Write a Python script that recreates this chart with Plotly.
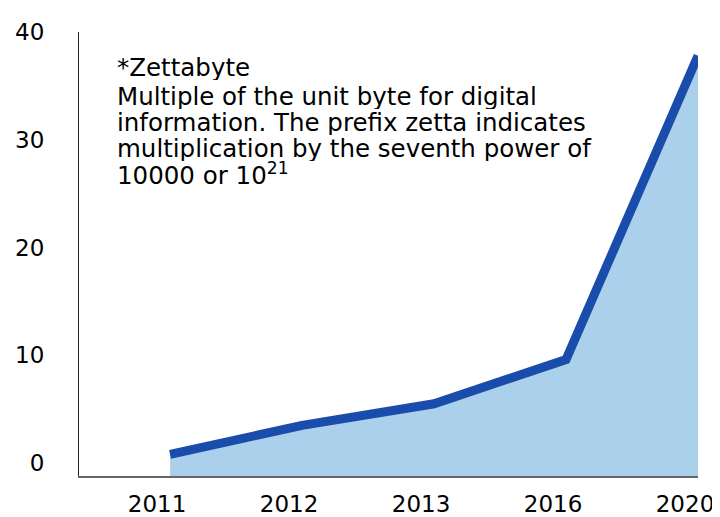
import plotly.graph_objects as go

# zettabytes of digital data per year
years = ['2011', '2012', '2013', '2016', '2020']
zettabytes = [0.8, 3.5, 5.5, 9.6, 37.8]
floor = [-1.45] * len(years)   # fill reaches just under the x axis line

note_lines = ['*Zettabyte',
              'Multiple of the unit byte for digital',
              'information. The prefix zetta indicates',
              'multiplication by the seventh power of',
              '10000 or 10<sup>21</sup>']

fig = go.Figure()

# invisible baseline for the area
fig.add_trace(go.Scatter(x=years, y=floor, mode='lines',
                         line=dict(width=0), hoverinfo='skip', showlegend=False))
# light blue area
fig.add_trace(go.Scatter(x=years, y=zettabytes, mode='lines', fill='tonexty',
                         fillcolor='rgba(134,188,228,0.7)',
                         line=dict(color='rgba(134,188,228,0.7)', width=3),
                         showlegend=False))
# dark blue line on top
fig.add_trace(go.Scatter(x=years, y=zettabytes, mode='lines',
                         line=dict(color='#1a4dab', width=9),
                         showlegend=False))

# note, one annotation per line to keep the tight line spacing
for i, txt in enumerate(note_lines):
    shift = 26 * i + (3 if i else 0)
    fig.add_annotation(text=txt, xref='paper', yref='paper', x=0.058, y=0.955,
                       yshift=-shift, xanchor='left', yanchor='top',
                       height=26, align='left', showarrow=False,
                       font=dict(family='DejaVu Sans', size=24.5, color='black'))

# page has an 8px body margin, so the figure is sized to fit the window
fig.update_layout(
    width=712, height=509,
    margin=dict(l=71, r=22, t=24, b=41),
    plot_bgcolor='white', paper_bgcolor='white',
    font=dict(family='DejaVu Sans', size=23, color='black'),
)
fig.update_xaxes(type='category', range=[-0.69, 4.0], showgrid=False,
                 showline=True, linecolor='#666666', linewidth=1.5,
                 ticks='outside', ticklen=7, tickcolor='rgba(0,0,0,0)',
                 ticklabelshift=-13, layer='below traces', zeroline=False,
                 automargin=False)
fig.update_yaxes(range=[-1.2, 40], tickvals=[0, 10, 20, 30, 40], showgrid=False,
                 showline=True, linecolor='#222222', linewidth=1,
                 ticks='outside', ticklen=29, tickcolor='rgba(0,0,0,0)',
                 zeroline=False, automargin=False)

fig.write_html('out.html')
